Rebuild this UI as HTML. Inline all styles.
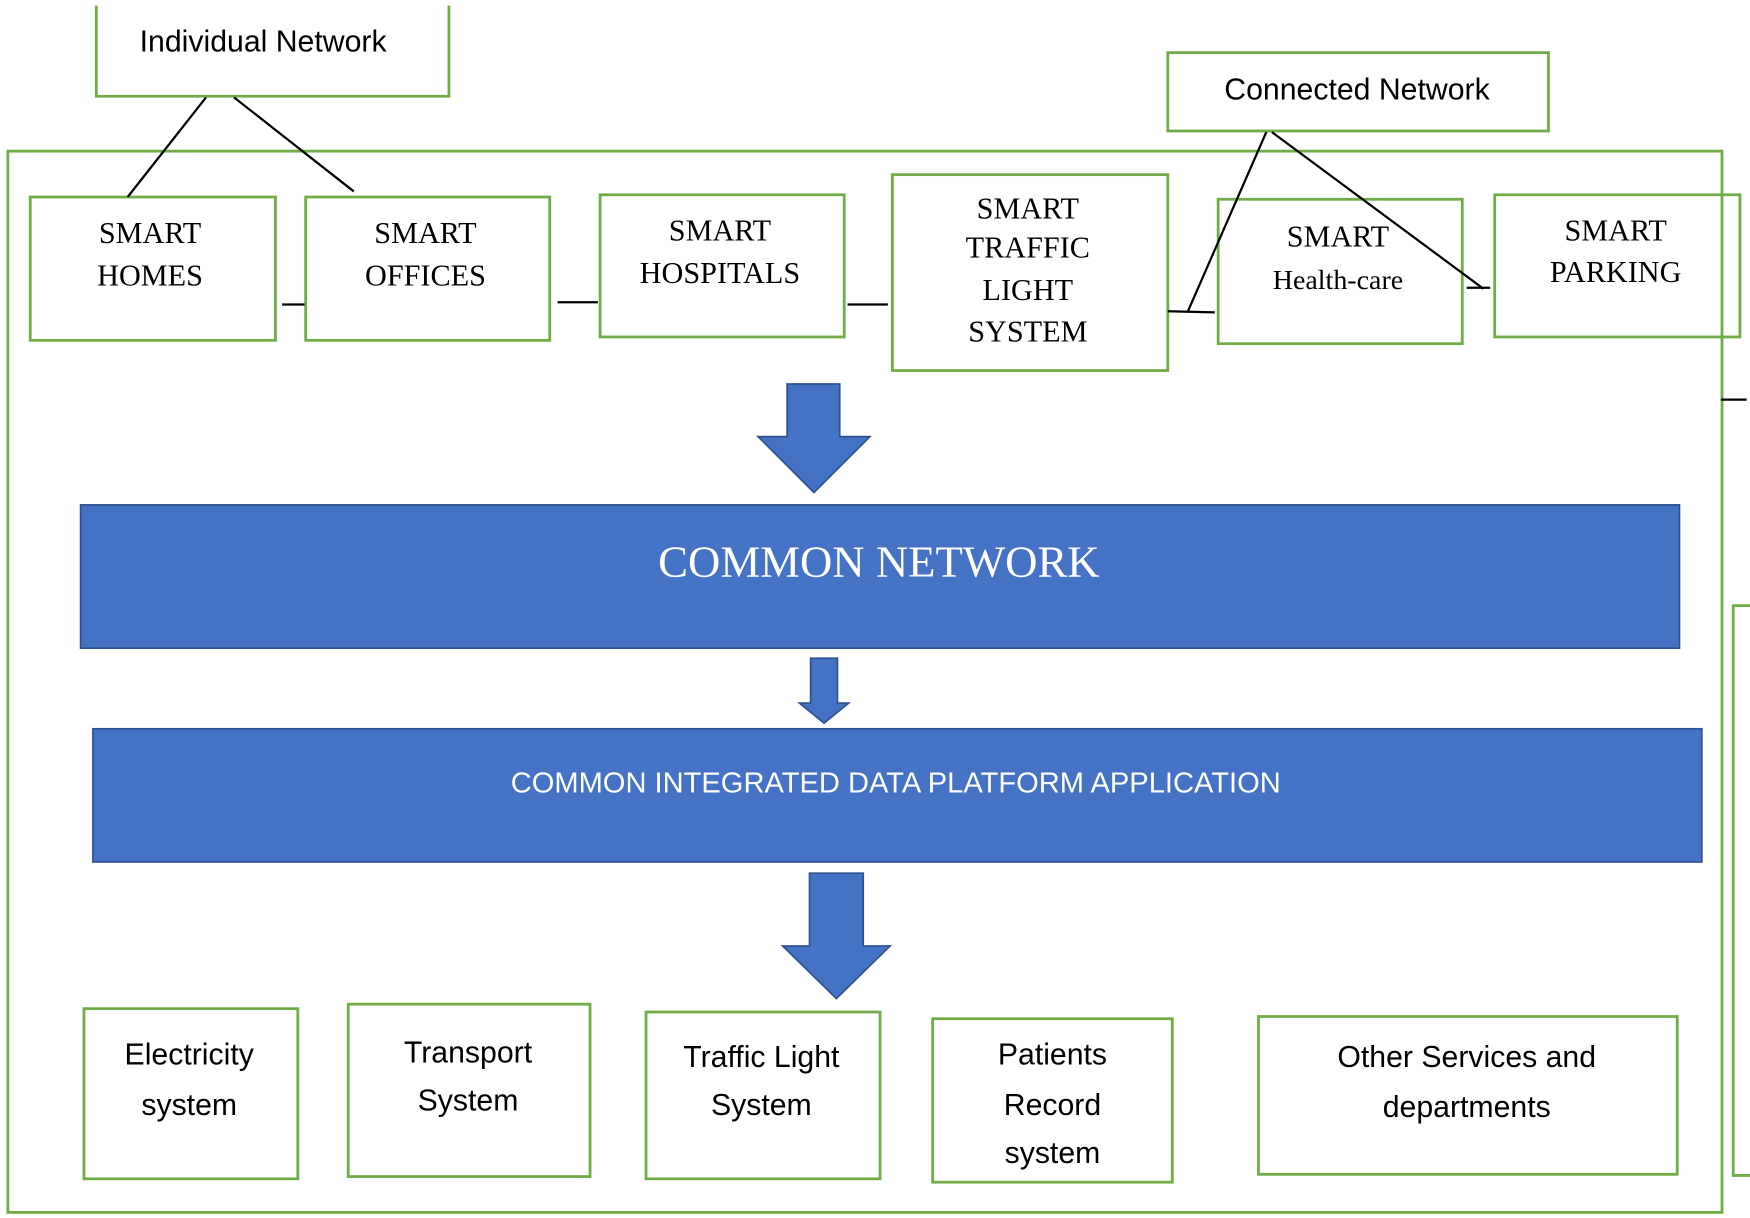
<!DOCTYPE html>
<html><head><style>html,body{margin:0;padding:0;background:#fff}svg{display:block}</style></head>
<body>
<svg width="1750" height="1218" viewBox="0 0 1563 1088" preserveAspectRatio="none" xmlns="http://www.w3.org/2000/svg">
<g fill="none" stroke="#70ad47" stroke-width="2.5">
<path d="M86 5 V86 H401 V5"/>
<rect x="7" y="135" width="1531" height="948"/>
<rect x="1043" y="47" width="340" height="70"/>
<rect x="27" y="176" width="219" height="128"/>
<rect x="273" y="176" width="218" height="128"/>
<rect x="536" y="174" width="218" height="127"/>
<rect x="797" y="156" width="246" height="175"/>
<rect x="1088" y="178" width="218" height="129"/>
<rect x="1335" y="174" width="219" height="127"/>
<rect x="75" y="901" width="191" height="152"/>
<rect x="311" y="897" width="216" height="154"/>
<rect x="577" y="904" width="209" height="149"/>
<rect x="833" y="910" width="214" height="146"/>
<rect x="1124" y="908" width="374" height="141"/>
<path d="M1565 541 H1548 V1050 H1565"/>
</g>
<g stroke="#000" stroke-width="2" fill="none">
<line x1="184" y1="87" x2="114" y2="176"/>
<line x1="209" y1="87" x2="316" y2="171"/>
<line x1="1131" y1="118" x2="1061" y2="278"/>
<line x1="1136" y1="118" x2="1325" y2="258"/>
<line x1="252" y1="272" x2="272" y2="272"/>
<line x1="498" y1="270" x2="534" y2="270"/>
<line x1="757" y1="272" x2="793" y2="272"/>
<line x1="1043" y1="278" x2="1085" y2="279"/>
<line x1="1310" y1="257" x2="1331" y2="257"/>
<line x1="1537" y1="357" x2="1560" y2="357"/>
</g>
<g fill="#4472c4" stroke="#2f528f" stroke-width="1.5">
<polygon points="703,343 750,343 750,390 777,390 727,440 677,390 703,390"/>
<rect x="72" y="451" width="1428" height="128"/>
<polygon points="724,588 748,588 748,628 758,628 736,646 714,628 724,628"/>
<rect x="83" y="651" width="1437" height="119"/>
<polygon points="723,780 771,780 771,845 795,845 747,892 699,845 723,845"/>
</g>
<g font-family="Liberation Serif, serif" font-size="27" text-anchor="middle" fill="#000">
<text x="134" y="217">SMART</text><text x="134" y="255">HOMES</text>
<text x="380" y="217">SMART</text><text x="380" y="255">OFFICES</text>
<text x="643" y="215">SMART</text><text x="643" y="253">HOSPITALS</text>
<text x="918" y="195">SMART</text><text x="918" y="230">TRAFFIC</text><text x="918" y="268">LIGHT</text><text x="918" y="305">SYSTEM</text>
<text x="1195" y="220">SMART</text><text x="1195" y="258" font-size="25">Health-care</text>
<text x="1443" y="215">SMART</text><text x="1443" y="252">PARKING</text>
<text x="785" y="515" font-size="40" fill="#fff">COMMON NETWORK</text>
</g>
<g font-family="Liberation Sans, sans-serif" font-size="27" text-anchor="middle" fill="#000">
<text x="235" y="46">Individual Network</text>
<text x="1212" y="89">Connected Network</text>
<text x="800" y="708" font-size="26" fill="#fff">COMMON INTEGRATED DATA PLATFORM APPLICATION</text>
<text x="169" y="951">Electricity</text><text x="169" y="996">system</text>
<text x="418" y="949">Transport</text><text x="418" y="992">System</text>
<text x="680" y="953">Traffic Light</text><text x="680" y="996">System</text>
<text x="940" y="951">Patients</text><text x="940" y="996">Record</text><text x="940" y="1039">system</text>
<text x="1310" y="953">Other Services and</text><text x="1310" y="998">departments</text>
</g>
</svg>
</body></html>
